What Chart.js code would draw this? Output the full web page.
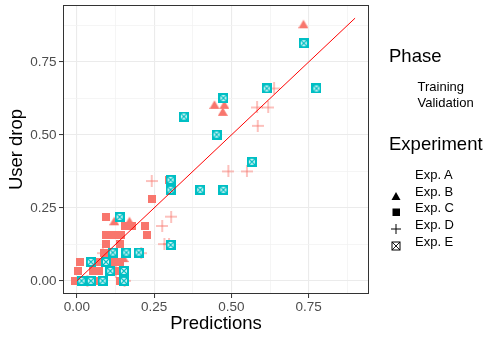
<!DOCTYPE html>
<html>
<head>
<meta charset="utf-8">
<script src="https://cdn.jsdelivr.net/npm/chart.js@4/dist/chart.umd.min.js"></script>
<style>
    body { margin: 0; background: #ffffff; }
    #wrap { position: relative; width: 484px; height: 337px; font-family: "Liberation Sans", Arial, sans-serif; }
    .lg { position: absolute; line-height: 1; white-space: nowrap; color: #000000; }
    .lg-title { font-size: 18.5px; }
    .lg-item { font-size: 13px; }
    .lg-key { position: absolute; }
</style>
</head>
<body>
<div id="wrap">
    <canvas id="chart" width="484" height="337"></canvas>
    <div id="legend"></div>
</div>
<script>
// Training, Exp. B (triangles)
const expBX = [0.733, 0.445, 0.477, 0.472, 0.121, 0.170, 0.151];
const expBY = [0.879, 0.603, 0.603, 0.579, 0.204, 0.204, 0.078];

// Training, Exp. C (squares)
const expCX = [0.298, 0.244, 0.093, 0.138, 0.157, 0.178, 0.219, 0.226, 0.093, 0.121, 0.142, 0.095, 0.138,
    0.089, 0.009, 0.071, 0.116, 0.138, 0.003, 0.052, 0.071, 0.127, -0.006, 0.052, 0.068, 0.138];
const expCY = [0.344, 0.280, 0.219, 0.219, 0.188, 0.188, 0.188, 0.157, 0.158, 0.158, 0.158, 0.127, 0.127,
    0.097, 0.065, 0.065, 0.065, 0.065, 0.034, 0.034, 0.034, 0.034, 0.0, 0.0, 0.0, 0.0];

// Training, Exp. D (plus)
const expDX = [0.638, 0.583, 0.619, 0.585, 0.490, 0.550, 0.242, 0.305, 0.276, 0.283, 0.298, 0.208, 0.084, 0.126, 0.154, 0.034];
const expDY = [0.659, 0.594, 0.594, 0.531, 0.375, 0.375, 0.342, 0.220, 0.188, 0.126, 0.126, 0.095, 0.095, 0.031, 0.0, 0.0];

// Validation, Exp. E (boxed cross)
const expEX = [0.734, 0.614, 0.775, 0.474, 0.346, 0.452, 0.566, 0.303, 0.303, 0.399, 0.474, 0.303,
    0.138, 0.200, 0.160, 0.116, 0.094, 0.045, 0.108, 0.152, 0.015, 0.045, 0.083, 0.152];
const expEY = [0.814, 0.659, 0.659, 0.626, 0.563, 0.501, 0.408, 0.346, 0.312, 0.312, 0.312, 0.123,
    0.219, 0.097, 0.097, 0.097, 0.065, 0.065, 0.034, 0.034, 0.0, 0.0, 0.0, 0.0];

// reference line
const fitX = [0, 0.9];
const fitY = [0, 0.9];

const tickValues = [0, 0.125, 0.25, 0.375, 0.5, 0.625, 0.75, 0.875];
const axisMin = -0.045;
const axisMax = 0.945;

const phaseLabels = ["Training", "Validation"];
const experimentLabels = ["Exp. A", "Exp. B", "Exp. C", "Exp. D", "Exp. E"];
const experimentKeys = [null, "triangle", "square", "plus", "box"];

const colors = {
    training: "#F8766D",
    validation: "#00BFC4",
    fit: "#FF0000",
    grid: "#EBEBEB",
    gridMinor: "#F2F2F2",
    tickText: "#4D4D4D",
    border: "#333333",
};

const FONT = '"Liberation Sans", Arial, sans-serif';

function zip(xs, ys) {
    return xs.map((x, i) => ({ x: x, y: ys[i] }));
}

function isMajor(value) {
    return Math.abs(value * 4 - Math.round(value * 4)) < 1e-6;
}

function makeSymbol(kind, size, color) {
    const c = document.createElement("canvas");
    c.width = size;
    c.height = size;
    const ctx = c.getContext("2d");
    if (kind === "square") {
        ctx.fillStyle = color;
        ctx.fillRect(0, 0, size, size);
    } else if (kind === "triangle") {
        ctx.fillStyle = color;
        ctx.beginPath();
        ctx.moveTo(size / 2, 0.5);
        ctx.lineTo(size, size - 1);
        ctx.lineTo(0, size - 1);
        ctx.closePath();
        ctx.fill();
    } else if (kind === "plus") {
        ctx.strokeStyle = color;
        ctx.lineWidth = 1;
        ctx.beginPath();
        ctx.moveTo(0, size / 2);
        ctx.lineTo(size, size / 2);
        ctx.moveTo(size / 2, 0);
        ctx.lineTo(size / 2, size);
        ctx.stroke();
    } else if (kind === "box") {
        ctx.fillStyle = color;
        ctx.fillRect(0, 0, size, size);
        ctx.fillStyle = "rgba(255,255,255,0.85)";
        ctx.fillRect(2, 2, size - 4, size - 4);
        ctx.strokeStyle = color;
        ctx.lineWidth = 1.1;
        ctx.beginPath();
        ctx.moveTo(2, 2);
        ctx.lineTo(size - 2, size - 2);
        ctx.moveTo(size - 2, 2);
        ctx.lineTo(2, size - 2);
        ctx.stroke();
    }
    return c;
}

const panelBorder = {
    id: "panelBorder",
    afterDraw(chart) {
        const area = chart.chartArea;
        const ctx = chart.ctx;
        ctx.save();
        ctx.strokeStyle = colors.border;
        ctx.lineWidth = 1;
        ctx.strokeRect(area.left + 0.5, area.top + 0.5, area.right - area.left - 1, area.bottom - area.top - 1);
        ctx.restore();
    },
};

function axisOptions(title, fitSize, isX) {
    return {
        type: "linear",
        min: axisMin,
        max: axisMax,
        afterBuildTicks: (scale) => {
            scale.ticks = tickValues.map((v) => ({ value: v }));
        },
        afterFit: (scale) => {
            // fixed axis sizes and no label overhang, so the panel lands where ggplot put it
            if (isX) {
                scale.height = fitSize;
            } else {
                scale.width = fitSize;
            }
            scale.paddingTop = 0;
            scale.paddingBottom = 0;
            scale.paddingLeft = 0;
            scale.paddingRight = 0;
        },
        border: { display: false },
        grid: {
            color: (ctx) => (isMajor(ctx.tick.value) ? colors.grid : colors.gridMinor),
            lineWidth: (ctx) => (isMajor(ctx.tick.value) ? 1.1 : 0.8),
            tickColor: (ctx) => (isMajor(ctx.tick.value) ? colors.border : "rgba(0,0,0,0)"),
            tickLength: 4,
            tickWidth: 1,
        },
        ticks: {
            autoSkip: false,
            maxRotation: 0,
            padding: isX ? 1 : 2.5,
            color: colors.tickText,
            font: { family: FONT, size: 13.5 },
            callback: (value) => (isMajor(value) ? Number(value).toFixed(2) : ""),
        },
        title: {
            display: true,
            text: title,
            color: "#000000",
            font: { family: FONT, size: 18.5 },
            padding: isX ? { top: 0, bottom: 2 } : { top: 5.5, bottom: 0 },
        },
    };
}

function initializeChart() {
    const context = document.getElementById("chart").getContext("2d");
    return new Chart(context, {
        type: "scatter",
        data: {
            datasets: [
                {
                    label: "Fit",
                    data: zip(fitX, fitY),
                    showLine: true,
                    borderColor: colors.fit,
                    borderWidth: 1,
                    pointRadius: 0,
                    order: 0,
                },
                {
                    label: "Validation Exp. E",
                    data: zip(expEX, expEY),
                    pointStyle: makeSymbol("box", 10, colors.validation),
                    order: 1,
                },
                {
                    label: "Training Exp. B",
                    data: zip(expBX, expBY),
                    pointStyle: makeSymbol("triangle", 10, colors.training),
                    order: 2,
                },
                {
                    label: "Training Exp. C",
                    data: zip(expCX, expCY),
                    pointStyle: makeSymbol("square", 8, colors.training),
                    order: 3,
                },
                {
                    label: "Training Exp. D",
                    data: zip(expDX, expDY),
                    pointStyle: makeSymbol("plus", 12, "rgba(248,118,109,0.9)"),
                    order: 4,
                },
            ],
        },
        options: {
            responsive: false,
            animation: false,
            devicePixelRatio: 1,
            layout: { padding: { left: 0, right: 115, top: 5, bottom: 0 } },
            plugins: {
                legend: { display: false },
                tooltip: { enabled: false },
            },
            scales: {
                x: axisOptions("Predictions", 43, true),
                y: axisOptions("User drop", 63, false),
            },
        },
        plugins: [panelBorder],
    });
}

function keySvg(kind) {
    const shapes = {
        triangle: '<polygon points="5,1 9.5,9 0.5,9" fill="#000"/>',
        square: '<rect x="1.5" y="1.5" width="7.5" height="7.5" fill="#000"/>',
        plus: '<path d="M0 5H10M5 0V10" stroke="#000" stroke-width="1" fill="none"/>',
        box: '<rect x="1" y="1" width="8" height="8" stroke="#000" stroke-width="1" fill="none"/>' +
            '<path d="M1 1L9 9M9 1L1 9" stroke="#000" stroke-width="0.9"/>',
    };
    return `<svg width="10" height="10" viewBox="0 0 10 10">${shapes[kind]}</svg>`;
}

function addText(root, text, cls, left, baseline, size) {
    const el = document.createElement("div");
    el.className = `lg ${cls}`;
    el.textContent = text;
    el.style.left = `${left}px`;
    el.style.top = `${baseline - 0.8465 * size}px`;
    root.appendChild(el);
}

function renderLegend() {
    const root = document.getElementById("legend");
    addText(root, "Phase", "lg-title", 389, 63, 18.5);
    phaseLabels.forEach((label, i) => {
        addText(root, label, "lg-item", 417.5, 91.5 + i * 15.5, 13);
    });

    addText(root, "Experiment", "lg-title", 389, 151, 18.5);
    experimentLabels.forEach((label, i) => {
        const baseline = 179 + i * 16.7;
        addText(root, label, "lg-item", 415, baseline, 13);
        if (experimentKeys[i]) {
            const key = document.createElement("div");
            key.className = "lg-key";
            key.style.left = "391px";
            key.style.top = `${baseline - 4 - 5}px`;
            key.innerHTML = keySvg(experimentKeys[i]);
            root.appendChild(key);
        }
    });
}

initializeChart();
renderLegend();
</script>
</body>
</html>
